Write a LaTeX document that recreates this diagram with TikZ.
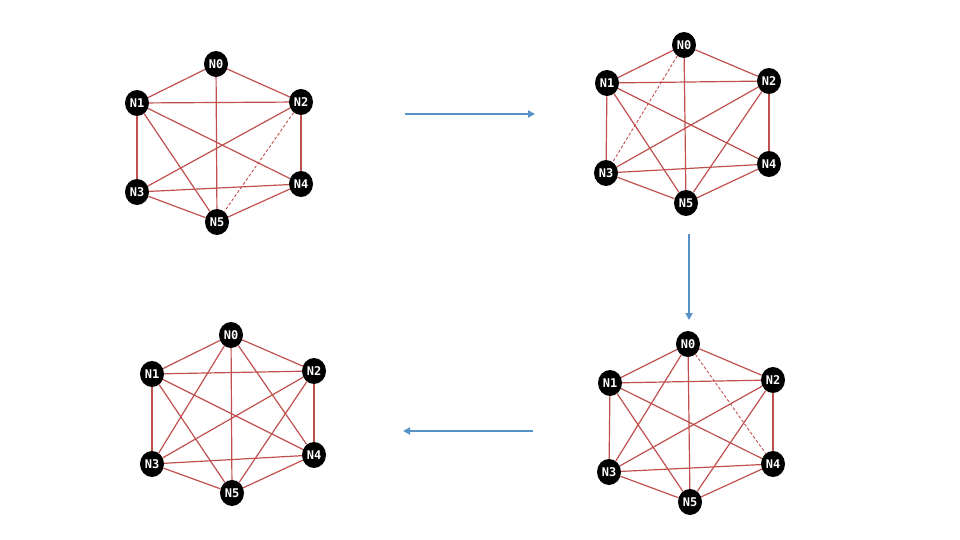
\documentclass[tikz,border=0pt]{standalone}
\usepackage{fontspec}
\newfontfamily\nodefont{DejaVu Sans Mono}
\usetikzlibrary{shapes.geometric,arrows.meta}
\definecolor{edgered}{RGB}{192,80,77}
\definecolor{flowblue}{RGB}{86,146,200}
\begin{document}
\begin{tikzpicture}[x=1pt,y=-1pt,
  vtx/.style={ellipse,fill=black,text=white,inner sep=0pt,minimum width=24pt,minimum height=26pt,font=\nodefont\bfseries\fontsize{12}{12}\selectfont},
  lnk/.style={edgered,line width=1.2pt},
  opt/.style={lnk,line width=0.9pt,dash pattern=on 3pt off 2pt},
  flow/.style={flowblue,line width=2pt,-{Triangle[length=7pt,width=7pt]}}]
\useasboundingbox (0,0) rectangle (960,540);
% step 1
\foreach \n/\x/\y in {0/216/64,1/137/103,2/301/102,3/137/192,4/301/184,5/217/222}
  \node[vtx] (a\n) at (\x,\y) {N\n};
\foreach \i/\j in {0/1,0/2,0/5,1/2,1/3,1/4,1/5,2/3,2/4,3/4,3/5,4/5}
  \draw[lnk] (a\i) -- (a\j);
\draw[opt] (a2) -- (a5);
% step 2
\foreach \n/\x/\y in {0/684/45,1/607/83,2/769/81,3/606/173,4/769/164,5/686/203}
  \node[vtx] (b\n) at (\x,\y) {N\n};
\foreach \i/\j in {0/1,0/2,0/5,1/2,1/3,1/4,1/5,2/3,2/4,2/5,3/4,3/5,4/5}
  \draw[lnk] (b\i) -- (b\j);
\draw[opt] (b0) -- (b3);
% step 3
\foreach \n/\x/\y in {0/688/344,1/610/383,2/773/380,3/609/472,4/773/464,5/690/502}
  \node[vtx] (c\n) at (\x,\y) {N\n};
\foreach \i/\j in {0/1,0/2,0/3,0/5,1/2,1/3,1/4,1/5,2/3,2/4,2/5,3/4,3/5,4/5}
  \draw[lnk] (c\i) -- (c\j);
\draw[opt] (c0) -- (c4);
% step 4
\foreach \n/\x/\y in {0/231/335,1/152/374,2/314/371,3/152/464,4/314/455,5/232/493}
  \node[vtx] (d\n) at (\x,\y) {N\n};
\foreach \i/\j in {0/1,0/2,0/3,0/4,0/5,1/2,1/3,1/4,1/5,2/3,2/4,2/5,3/4,3/5,4/5}
  \draw[lnk] (d\i) -- (d\j);
% arrows
\coordinate (r1) at (405,114);
\coordinate (r2) at (535,114);
\coordinate (s1) at (689,234);
\coordinate (s2) at (689,320);
\coordinate (t1) at (533,431);
\coordinate (t2) at (403,431);
\draw[flow] (r1) -- (r2);
\draw[flow] (s1) -- (s2);
\draw[flow] (t1) -- (t2);
\end{tikzpicture}
\end{document}
